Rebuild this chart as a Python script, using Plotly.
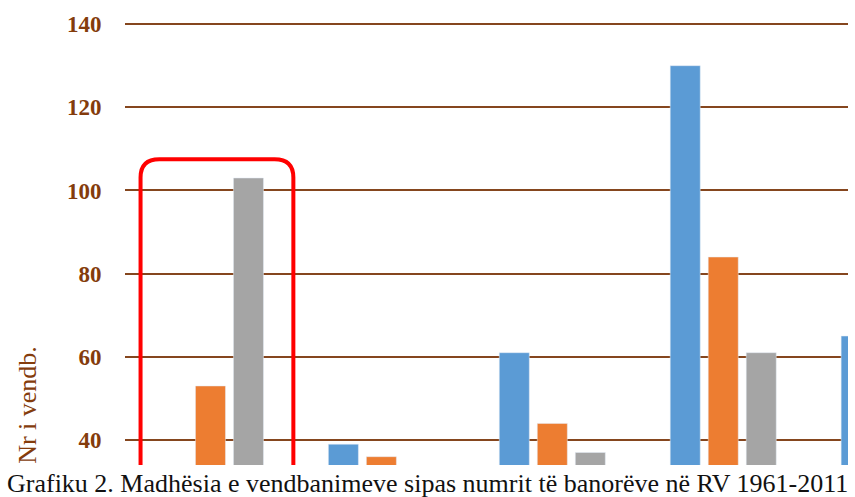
"""Grafiku 2 - grouped bars, Plotly recreation."""
import plotly.graph_objects as go

# categories (x labels are not visible in the source)
groups = ["G1", "G2", "G3", "G4", "G5"]

# series values (None = not visible / unknown)
serie_1961 = [25, 39, 61, 130, 65]
serie_1989 = [53, 36, 44, 84, None]
serie_2011 = [103, 30, 37, 61, None]

y_ticks = [40, 60, 80, 100, 120, 140]
caption = "Grafiku 2. Madhësia e vendbanimeve sipas numrit të banorëve në RV 1961-2011"
y_title = "Nr i vendb."

BROWN = "#843C0C"
GRID = "#85461E"

fig = go.Figure()
fig.add_trace(go.Bar(x=groups, y=serie_1961, marker_color="#5B9BD5", name="1961"))
fig.add_trace(go.Bar(x=groups, y=serie_1989, marker_color="#ED7D31", name="1989"))
fig.add_trace(go.Bar(x=groups, y=serie_2011, marker_color="#A5A5A5", name="2011"))

# red rounded box around the first group (data coords; bottom is clipped)
x0, x1, y0, y1 = -0.409, 0.485, 20, 107.5
rx, ry = 0.11, 4.4
path = (
    f"M {x0},{y0} L {x0},{y1 - ry} Q {x0},{y1} {x0 + rx},{y1} "
    f"L {x1 - rx},{y1} Q {x1},{y1} {x1},{y1 - ry} L {x1},{y0}"
)
fig.add_shape(type="path", path=path, xref="x", yref="y",
              line=dict(color="#FF0000", width=4), layer="above")

fig.add_annotation(text=caption, xref="paper", yref="paper", x=-0.166, y=-0.041,
                   xanchor="left", yanchor="middle", showarrow=False,
                   font=dict(family="Liberation Serif", size=26, color="#111111"))
fig.add_annotation(text=y_title, xref="paper", yref="paper", x=-0.134, y=0.136,
                   xanchor="center", yanchor="middle", textangle=-90, showarrow=False,
                   font=dict(family="Liberation Serif", size=26, color=BROWN))

fig.update_layout(
    width=855, height=497,
    margin=dict(l=125, r=7, t=22, b=32),
    plot_bgcolor="white", paper_bgcolor="white",
    barmode="group", bargap=0.333, bargroupgap=0.21,
    showlegend=False,
)
fig.update_xaxes(type="category", range=[-0.5, 3.73], showticklabels=False,
                 showgrid=False, zeroline=False, showline=False)
# a bit of headroom above 140 so its gridline is still drawn
fig.update_yaxes(range=[34, 140.5], tickvals=y_ticks, showgrid=True,
                 gridcolor=GRID, gridwidth=2, zeroline=False, showline=False,
                 ticks="outside", ticklen=18, tickcolor="rgba(0,0,0,0)",
                 tickfont=dict(family="Liberation Serif", size=23, color=BROWN,
                               weight="bold"))

# page body has a default 8px margin; drop it so the figure fills the window
fig.write_html("out.html", config={"displayModeBar": False},
               post_script="document.body.style.margin='0';")
